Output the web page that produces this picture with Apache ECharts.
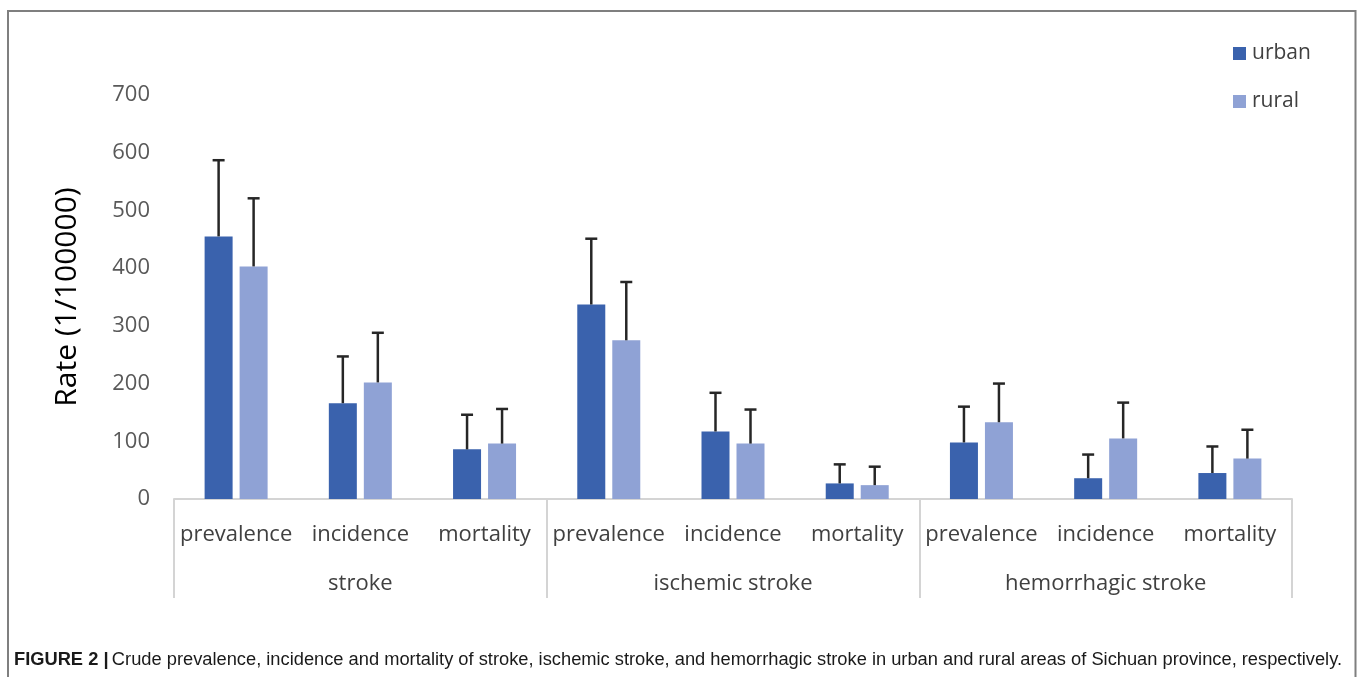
<!DOCTYPE html>
<html>
<head>
<meta charset="utf-8">
<script src="https://cdn.jsdelivr.net/npm/echarts@6/dist/echarts.min.js"></script>
<style>
html,body{margin:0;padding:0;background:#fff;}
#chart{width:1357px;height:677px;}
</style>
</head>
<body>
<div id="chart"></div>
<script>
// ---- data ----
const measures = ['prevalence','incidence','mortality','prevalence','incidence','mortality','prevalence','incidence','mortality'];
const groups = ['stroke','ischemic stroke','hemorrhagic stroke'];
const urbanValues = [455, 166, 86, 337, 117, 27, 98, 36, 45];
const urbanUpper  = [587, 247, 146, 451, 184, 60, 160, 77, 91];
const ruralValues = [403, 202, 96, 275, 96, 24, 133, 105, 70];
const ruralUpper  = [521, 288, 156, 376, 155, 56, 200, 167, 120];
const yTicks = [0, 100, 200, 300, 400, 500, 600, 700];
const seriesNames = ['urban','rural'];

const urbanColor = '#3A62AD';
const ruralColor = '#8FA2D5';
const labelFont = '"Open Sans", "Noto Sans", sans-serif';

const chart = echarts.init(document.getElementById('chart'), null, {renderer:'canvas'});

function errorBarSeries(name, upper, values, offset) {
  const data = values.map((v, i) => [i, v, upper[i]]);
  return {
    type: 'custom',
    name: name + ' error',
    xAxisIndex: 0,
    yAxisIndex: 0,
    z: 5,
    silent: true,
    renderItem: function (params, api) {
      const base = api.coord([api.value(0), api.value(1)]);
      const top = api.coord([api.value(0), api.value(2)]);
      const x = base[0] + offset;
      const capHalf = 6;
      return {
        type: 'group',
        children: [
          {type:'line', shape:{x1:x, y1:base[1], x2:x, y2:top[1]}, style:{stroke:'#262626', lineWidth:2.5}},
          {type:'line', shape:{x1:x-capHalf, y1:top[1], x2:x+capHalf, y2:top[1]}, style:{stroke:'#262626', lineWidth:2.5}}
        ]
      };
    },
    data: data
  };
}

const option = {
  animation: false,
  backgroundColor: '#ffffff',
  grid: {left: 174, right: 65, top: 95, bottom: 178, containLabel: false},
  legend: {
    data: seriesNames,
    orient: 'vertical',
    left: 1228,
    top: 38,
    icon: 'rect',
    itemWidth: 13,
    itemHeight: 13,
    itemGap: 27,
    textStyle: {fontFamily: labelFont, fontSize: 21, color: '#404040', padding:[0,0,0,1]}
  },
  xAxis: [
    {
      type: 'category',
      data: measures,
      position: 'bottom',
      axisLine: {show: true, lineStyle: {color: '#d4d4d4', width: 2}},
      axisTick: {show: false},
      axisLabel: {fontFamily: labelFont, fontSize: 22, color: '#404040', margin: 25, interval: 0}
    },
    {
      type: 'category',
      data: groups,
      position: 'bottom',
      axisLine: {show: false},
      axisTick: {show: true, length: 99, alignWithLabel: false, lineStyle: {color: '#d4d4d4', width: 2}},
      axisLabel: {fontFamily: labelFont, fontSize: 22, color: '#404040', margin: 74, interval: 0}
    }
  ],
  yAxis: {
    type: 'value',
    min: 0,
    max: 700,
    interval: 100,
    name: 'Rate (1/100000)',
    nameLocation: 'middle',
    nameGap: 92,
    nameRotate: 90,
    nameTextStyle: {fontFamily: labelFont, fontSize: 30, color: '#000000'},
    axisLine: {show: false},
    axisTick: {show: false},
    splitLine: {show: false},
    axisLabel: {
      fontFamily: labelFont, fontSize: 22, color: '#595959', margin: 24,
      formatter: v => yTicks.includes(v) ? String(v) : ''
    }
  },
  series: [
    {
      type: 'bar', name: 'urban', data: urbanValues, barWidth: 28, barGap: '25%',
      itemStyle: {color: urbanColor}
    },
    {
      type: 'bar', name: 'rural', data: ruralValues, barWidth: 28, barGap: '25%',
      itemStyle: {color: ruralColor}
    },
    errorBarSeries('urban', urbanUpper, urbanValues, -17.5),
    errorBarSeries('rural', ruralUpper, ruralValues, 17.5)
  ],
  graphic: [
    {
      type: 'polyline', silent: true, z: 0,
      shape: {points: [[8, 700], [8, 11], [1355.5, 11], [1355.5, 700]]},
      style: {stroke: '#7f7f7f', lineWidth: 2, fill: null}
    },
    {
      type: 'text', left: 14, top: 651, silent: true,
      style: {
        text: '{b|FIGURE 2 |} {r|Crude prevalence, incidence and mortality of stroke, ischemic stroke, and hemorrhagic stroke in urban and rural areas of Sichuan province, respectively.}',
        rich: {
          b: {fontFamily: '"Liberation Sans Narrow", "Liberation Sans", sans-serif', fontWeight: 'bold', fontSize: 18.3, fill: '#1a1a1a'},
          r: {fontFamily: '"Liberation Sans Narrow", "Liberation Sans", sans-serif', fontSize: 18.3, fill: '#1a1a1a'}
        }
      }
    }
  ]
};
chart.setOption(option);
</script>
</body>
</html>
